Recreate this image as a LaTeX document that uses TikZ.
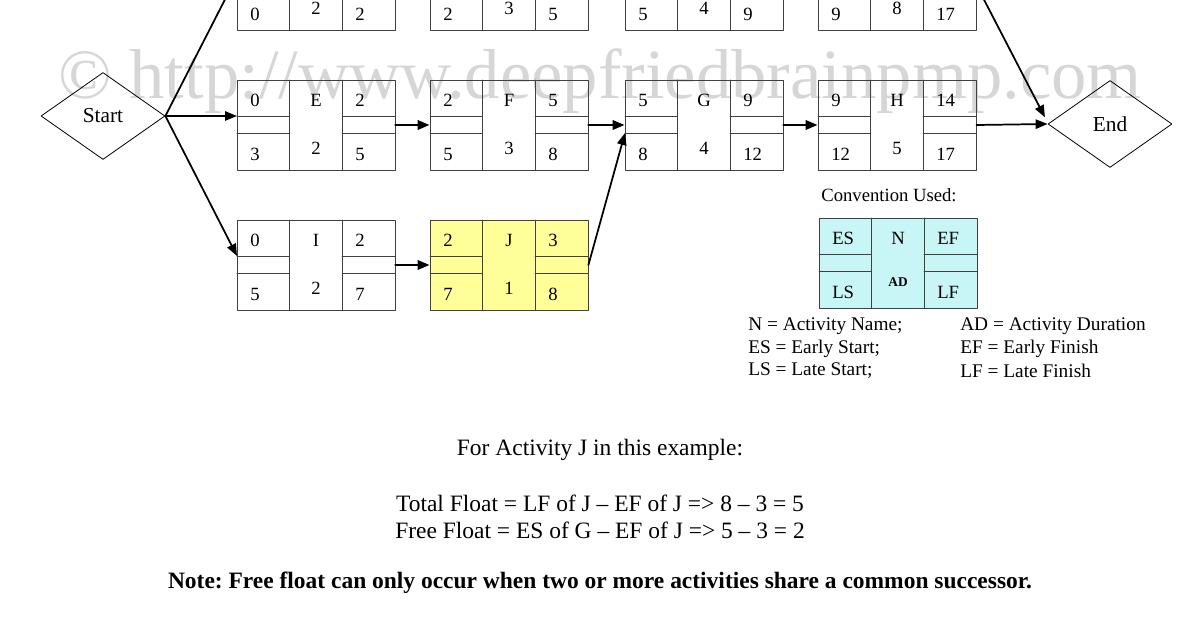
\documentclass[tikz,border=0pt]{standalone}
\usepackage{fontspec}
\setmainfont{Liberation Serif}
\usetikzlibrary{arrows.meta,shapes.geometric}
\definecolor{critfill}{RGB}{255,255,153}
\definecolor{keyfill}{RGB}{200,245,245}
\frenchspacing
\tikzset{
  actnode/.style={draw=black!75,line width=0.6pt,minimum width=158*0.75pt,minimum height=90*0.75pt,inner sep=0pt},
  boxline/.style={draw=black!75,line width=0.6pt},
  num/.style={anchor=west,inner sep=0pt,font=\fontsize{14}{16}\selectfont},
  mid/.style={inner sep=0pt,font=\fontsize{14}{16}\selectfont},
  terminal/.style={diamond,draw,line width=0.6pt,inner sep=0pt,minimum width=124*0.75pt,minimum height=87*0.75pt,font=\fontsize{16}{18}\selectfont},
  link/.style={->,line width=1.3pt},
  note/.style={anchor=west,inner sep=0pt,font=\fontsize{14.5}{16}\selectfont},
  float/.style={inner sep=0pt,font=\fontsize{17.6}{20}\selectfont}
}
% one activity box: [fill] name, top-left corner, ES, N, EF, LS, AD, LF
\newcommand{\actbox}[9][none]{%
\begin{scope}[shift={(#3)}]
\node[actnode,fill=#1] (#2) at (79,45) {};
\draw[boxline] (52,0)--(52,90) (105,0)--(105,90) (0,36)--(52,36) (0,53)--(52,53) (105,36)--(158,36) (105,53)--(158,53);
\node[num] (#2-es) at (13,20) {#4};
\node[mid] (#2-n) at (79,20) {#5};
\node[num] (#2-ef) at (118,20) {#6};
\node[num] (#2-ls) at (13,74) {#7};
\node[mid] (#2-ad) at (79,68) {#8};
\node[num] (#2-lf) at (118,74) {#9};
\coordinate (#2-hi) at (0,36);
\coordinate (#2-lo) at (0,53);
\end{scope}}

\begin{document}
\begin{tikzpicture}[x=0.75pt,y=-0.75pt,line cap=round,line join=round,>={Triangle[length=9pt,width=7pt]}]
\useasboundingbox (0,0) rectangle (1200,630);
% watermark
\node[anchor=base west,inner sep=0pt,text=black!16,font=\fontsize{53}{53}\selectfont] (mark) at (58,99) {© http://www.deepfriedbrainpmp.com};
% start and end
\node[terminal] (start) at (103,116) {Start};
\node[terminal] (end) at (1110,124) {End};
% top row (critical path)
\actbox{A}{237,-60}{}{}{}{0}{2}{2}
\actbox{B}{430,-60}{}{}{}{2}{3}{5}
\actbox{C}{625,-60}{}{}{}{5}{4}{9}
\actbox{D}{818,-60}{}{}{}{9}{8}{17}
% middle row
\actbox{E}{237,80}{0}{E}{2}{3}{2}{5}
\actbox{F}{430,80}{2}{F}{5}{5}{3}{8}
\actbox{G}{625,80}{5}{G}{9}{8}{4}{12}
\actbox{H}{818,80}{9}{H}{14}{12}{5}{17}
% bottom row
\actbox{I}{237,220}{0}{I}{2}{5}{2}{7}
\actbox[critfill]{J}{430,220}{2}{J}{3}{7}{1}{8}
% connectors
\draw[link] (start.east)--(A-hi);
\draw[link] (start.east)--(E-hi);
\draw[link] (start.east)--(I-hi);
\draw[link,line width=1.8pt] (E.east)--(F.west);
\draw[link,line width=1.8pt] (F.east)--(G.west);
\draw[link,line width=1.8pt] (G.east)--(H.west);
\draw[link,line width=1.8pt] (I.east)--(J.west);
\draw[link] (J.east)--(G-lo);
\draw[link] (H.east)--(end.west);
\draw[link] (D.east)--([xshift=-2pt,yshift=5pt]end.west);
% convention
\node[inner sep=0pt,font=\fontsize{14}{16}\selectfont] (conv) at (889,195) {Convention Used:};
\actbox[keyfill]{K}{819,218}{ES}{N}{EF}{LS}{}{LF}
\node[inner sep=0pt,font=\bfseries\fontsize{10}{12}\selectfont] (K-bold) at (898,282) {AD};
\node[note] (n1) at (748,326) {N = Activity Name;};
\node[note] (n2) at (748,349) {ES = Early Start;};
\node[note] (n3) at (748,371) {LS = Late Start;};
\node[note] (n4) at (960,326) {AD = Activity Duration};
\node[note] (n5) at (960,349) {EF = Early Finish};
\node[note] (n6) at (960,371) {LF = Late Finish};
% float text
\node[float] (t1) at (600,450) {For Activity J in this example:};
\node[float] (t2) at (600,503) {Total Float = LF of J -- EF of J => 8 -- 3 = 5};
\node[float] (t3) at (600,530) {Free Float = ES of G -- EF of J => 5 -- 3 = 2};
\node[float,font=\bfseries\fontsize{17.6}{20}\selectfont] (t4) at (600,583) {Note: Free float can only occur when two or more activities share a common successor.};
\end{tikzpicture}
\end{document}
